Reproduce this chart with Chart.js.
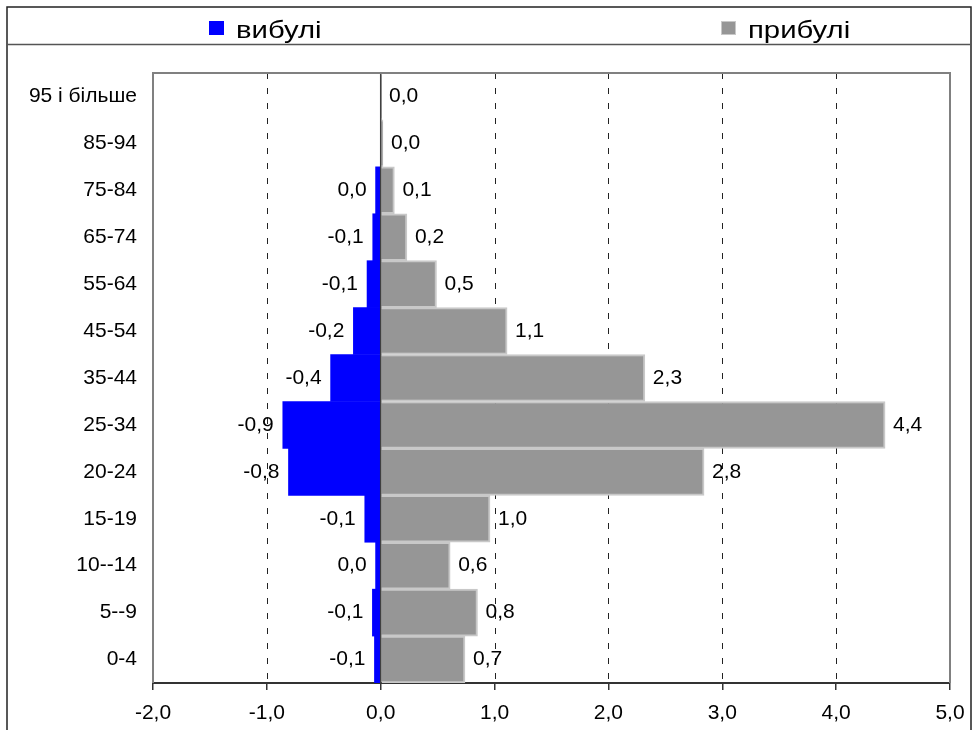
<!DOCTYPE html>
<html>
<head>
<meta charset="utf-8">
<script src="https://cdn.jsdelivr.net/npm/chart.js@4.4.0/dist/chart.umd.min.js"></script>
<style>
    body { margin: 0; background: #fff; }
    #grafico { display: block; }
</style>
</head>
<body>
<canvas id="grafico" width="978" height="730"></canvas>
<script>
var vikovi = ['95 і більше', '85-94', '75-84', '65-74', '55-64', '45-54', '35-44',
    '25-34', '20-24', '15-19', '10--14', '5--9', '0-4'];
var vybuli = [null, null, -0.045, -0.07, -0.12, -0.24, -0.44, -0.86, -0.81, -0.14, -0.045, -0.073, -0.055];
var prybuli = [0.003, 0.02, 0.12, 0.23, 0.49, 1.11, 2.32, 4.43, 2.84, 0.96, 0.61, 0.85, 0.74];
var xTicks = [-2, -1, 0, 1, 2, 3, 4, 5];

var shrift = '"Liberation Sans", Arial, sans-serif';

function formatUa(v) {
    var s = v.toFixed(1);
    if (s === '-0.0') s = '0.0';
    return s.replace('.', ',');
}

function legendItem(ctx, x, text, fill, stroke) {
    ctx.fillStyle = fill;
    ctx.fillRect(x, 21, 15, 14);
    if (stroke) {
        ctx.strokeStyle = stroke;
        ctx.lineWidth = 1;
        ctx.strokeRect(x + 0.5, 21.5, 14, 13);
    }
    // текст у легенді ширший, як в оригіналі
    ctx.save();
    ctx.translate(x + 27, 31);
    ctx.scale(1.22, 1);
    ctx.fillStyle = '#000';
    ctx.fillText(text, 0, 0);
    ctx.restore();
}

// рамка, легенда, сітка
var ramka = {
    id: 'ramka',
    beforeDraw: function (chart) {
        var ctx = chart.ctx;
        ctx.save();
        ctx.fillStyle = '#fff';
        ctx.fillRect(0, 0, chart.width, chart.height);
        ctx.strokeStyle = '#222';
        ctx.lineWidth = 1.5;
        ctx.beginPath();
        ctx.moveTo(7, 740); ctx.lineTo(7, 7); ctx.lineTo(971, 7); ctx.lineTo(971, 740);
        ctx.stroke();
        ctx.strokeStyle = '#555';
        ctx.beginPath();
        ctx.moveTo(7, 44.5); ctx.lineTo(971, 44.5);
        ctx.stroke();

        ctx.font = '24px ' + shrift;
        ctx.textBaseline = 'middle';
        legendItem(ctx, 209, 'вибулі', '#0000ff', null);
        legendItem(ctx, 721, 'прибулі', '#969696', '#c8c8c8');
        ctx.restore();
    },
    beforeDatasetsDraw: function (chart) {
        var ctx = chart.ctx;
        var area = chart.chartArea;
        var x = chart.scales.x;
        ctx.save();
        ctx.strokeStyle = '#222';
        ctx.lineWidth = 1;
        ctx.setLineDash([6, 9]);
        xTicks.forEach(function (t) {
            if (t === 0 || t === xTicks[0] || t === xTicks[xTicks.length - 1]) return;
            var px = Math.round(x.getPixelForValue(t)) + 0.5;
            ctx.beginPath();
            ctx.moveTo(px, area.top);
            ctx.lineTo(px, area.bottom);
            ctx.stroke();
        });
        ctx.restore();
    },
    afterDatasetsDraw: function (chart) {
        var ctx = chart.ctx;
        var area = chart.chartArea;
        var x = chart.scales.x;
        ctx.save();
        // нульова лінія
        var p0 = x.getPixelForValue(0);
        ctx.strokeStyle = '#404040';
        ctx.lineWidth = 1.5;
        ctx.beginPath();
        ctx.moveTo(p0, area.top);
        ctx.lineTo(p0, area.bottom);
        ctx.stroke();
        // рамка області
        ctx.strokeStyle = '#808080';
        ctx.lineWidth = 2;
        ctx.beginPath();
        ctx.moveTo(area.left, area.bottom);
        ctx.lineTo(area.left, area.top);
        ctx.lineTo(area.right, area.top);
        ctx.lineTo(area.right, area.bottom);
        ctx.stroke();

        // підписи значень
        ctx.font = '21px ' + shrift;
        ctx.fillStyle = '#000';
        ctx.textBaseline = 'middle';
        chart.data.datasets.forEach(function (ds, di) {
            var meta = chart.getDatasetMeta(di);
            meta.data.forEach(function (el, i) {
                var v = ds.data[i];
                if (v === null) return;
                if (v < 0) {
                    ctx.textAlign = 'right';
                    ctx.fillText(formatUa(v), el.x - 9, el.y);
                } else {
                    ctx.textAlign = 'left';
                    ctx.fillText(formatUa(v), el.x + 8, el.y);
                }
            });
        });
        ctx.restore();
    }
};

var ctx = document.getElementById('grafico').getContext('2d');
var grafico = new Chart(ctx, {
    type: 'bar',
    data: {
        labels: vikovi,
        datasets: [{
            label: 'вибулі',
            data: vybuli,
            backgroundColor: '#0000ff',
            borderWidth: 0,
            categoryPercentage: 1,
            barPercentage: 1
        }, {
            label: 'прибулі',
            data: prybuli,
            backgroundColor: '#969696',
            borderColor: '#c8c8c8',
            borderWidth: 2,
            categoryPercentage: 1,
            barPercentage: 1
        }]
    },
    options: {
        indexAxis: 'y',
        responsive: false,
        animation: false,
        layout: {
            padding: { top: 73, right: 28, bottom: 0, left: 0 }
        },
        plugins: {
            legend: { display: false },
            tooltip: { enabled: false }
        },
        scales: {
            x: {
                stacked: true,
                min: -2,
                max: 5,
                afterBuildTicks: function (scale) {
                    scale.ticks = xTicks.map(function (v) { return { value: v }; });
                },
                afterFit: function (scale) { scale.height = 47; },
                grid: {
                    drawOnChartArea: false,
                    drawTicks: true,
                    tickLength: 7,
                    color: '#333',
                    lineWidth: 1.5
                },
                border: { display: true, color: '#333', width: 2 },
                ticks: {
                    padding: 11,
                    color: '#000',
                    font: { family: shrift, size: 21 },
                    maxRotation: 0,
                    callback: function (v) { return formatUa(v); }
                }
            },
            y: {
                stacked: true,
                afterFit: function (scale) { scale.width = 153; },
                grid: { display: false },
                border: { display: false },
                ticks: {
                    padding: 8,
                    color: '#000',
                    font: { family: shrift, size: 21 }
                }
            }
        }
    },
    plugins: [ramka]
});
</script>
</body>
</html>
